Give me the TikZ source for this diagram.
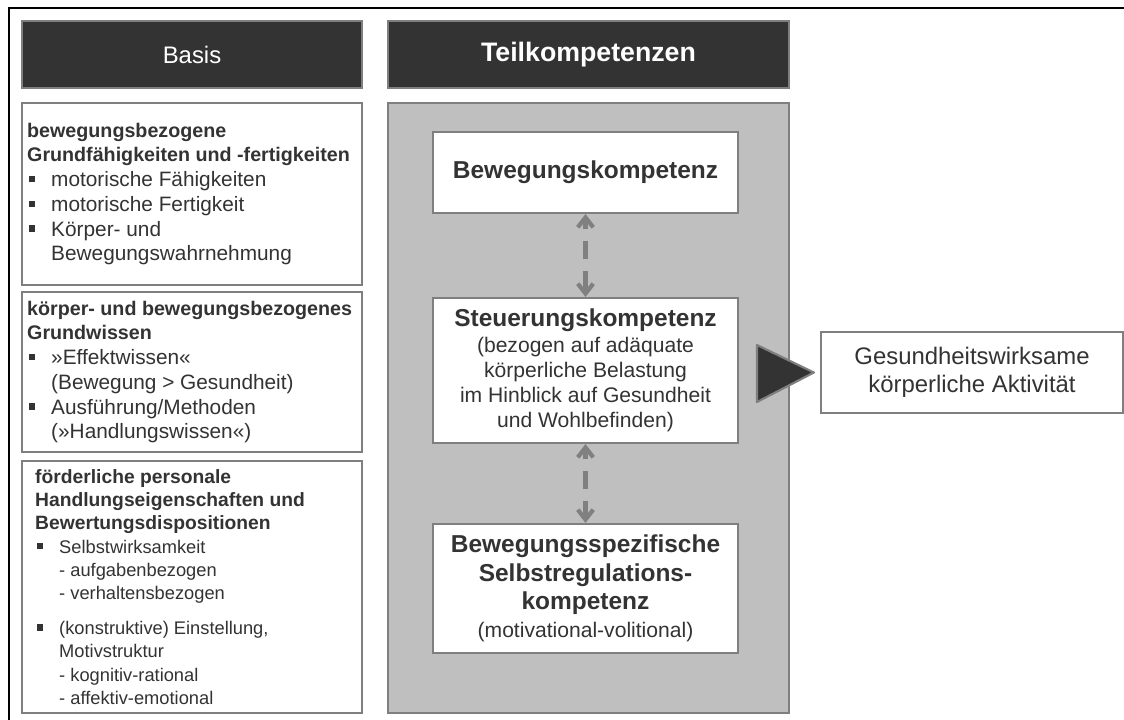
\documentclass[tikz,border=0pt]{standalone}
\usepackage{fontspec}
\setmainfont{Liberation Sans}
\usetikzlibrary{arrows.meta, positioning}
\definecolor{hdrdark}{HTML}{333333}
\definecolor{boxgray}{HTML}{7F7F7F}
\definecolor{panelgray}{HTML}{BFBFBF}
\definecolor{txtdark}{HTML}{333333}
\definecolor{linkgray}{HTML}{808080}

% square bullet, hanging indent and bold heading for the Basis lists
\newcommand{\bul}{\hspace*{1.4pt}\makebox[15.7pt][l]{\raisebox{0.22em}{\rule{4.3pt}{4.3pt}}}}
\newcommand{\ind}{\hspace*{17.1pt}}
\newcommand{\hd}[2][14]{{\fontsize{#1}{17.6}\selectfont\bfseries #2}}

\begin{document}
\begin{tikzpicture}[x=0.025cm, y=-0.025cm,
    header/.style={rectangle, draw=boxgray, line width=1.5pt, fill=hdrdark, text=white, minimum width=8.5cm, minimum height=1.675cm},
    basisbox/.style={rectangle, draw=boxgray, line width=1.5pt, fill=white, minimum width=8.5cm},
    basistext/.style={anchor=west, inner sep=0pt, align=left, text=txtdark, font=\fontsize{14.8}{17.6}\selectfont},
    kbox/.style={rectangle, draw=boxgray, line width=1.5pt, fill=white, text=txtdark, minimum width=7.625cm, align=center, font=\fontsize{15}{17.8}\selectfont},
    link/.style={{Straight Barb[length=7pt,width=11pt]}-{Straight Barb[length=7pt,width=11pt]}, linkgray, line width=3pt, dash pattern=on 7pt off 8.5pt on 12.8pt off 8.5pt on 20pt},
  ]
  \useasboundingbox (0,0) rectangle (1124,720);
  \draw[line width=2pt] (9,720) -- (9,8) -- (1124,8);

  % headers
  \node[header, font=\fontsize{17}{20}\selectfont] (hbasis) at (192,54.5) {Basis};
  \node[header, minimum width=10.025cm, font=\fontsize{19}{22}\selectfont\bfseries] (hteil) at (588.5,54.5) {Teilkompetenzen};

  % Basis column
  \node[basisbox, minimum height=4.55cm] (b1) at (192,194) {};
  \node[basistext, right=0.15cm of b1.west] (b1txt) {\hd{bewegungsbezogene}\\
    \hd{Grundfähigkeiten und -fertigkeiten}\\
    \bul motorische Fähigkeiten\\
    \bul motorische Fertigkeit\\
    \bul Körper- und\\
    \ind Bewegungswahrnehmung};

  \node[basisbox, minimum height=4.0cm] (b2) at (192,372) {};
  \node[basistext, right=0.15cm of b2.west] (b2txt) {\hd{körper- und bewegungsbezogenes}\\
    \hd{Grundwissen}\\
    \bul »Effektwissen«\\
    \ind (Bewegung > Gesundheit)\\
    \bul Ausführung/Methoden\\
    \ind (»Handlungswissen«)};

  \node[basisbox, minimum height=6.3cm] (b3) at (192,587) {};
  \node[basistext, right=0.35cm of b3.west, font=\fontsize{13}{16.6}\selectfont] (b3txt) {\hd[13.7]{förderliche personale}\\
    \hd[13.7]{Handlungseigenschaften und}\\
    \hd[13.7]{Bewertungsdispositionen}\\
    \bul Selbstwirksamkeit\\
    \ind - aufgabenbezogen\\
    \ind - verhaltensbezogen\\[8pt]
    \bul (konstruktive) Einstellung,\\
    \ind Motivstruktur\\
    \ind - kognitiv-rational\\
    \ind - affektiv-emotional};

  % Teilkompetenzen column
  \node[rectangle, draw=boxgray, line width=1.5pt, fill=panelgray, minimum width=10.025cm, minimum height=15.25cm] (panel) at (588.5,408) {};

  \node[kbox, minimum height=2.025cm, font=\fontsize{17.4}{20}\selectfont\bfseries] (k1) at (585.5,172.5) {Bewegungskompetenz};
  \node[kbox, minimum height=3.625cm] (k2) at (585.5,370.5) {{\fontsize{17.4}{20}\selectfont\bfseries Steuerungskompetenz}\\[1pt]
    (bezogen auf adäquate\\körperliche Belastung\\im Hinblick auf Gesundheit\\und Wohlbefinden)};
  \node[kbox, minimum height=3.225cm, font=\fontsize{17.4}{20}\selectfont\bfseries] (k3) at (585.5,588.5) {Bewegungsspezifische\\Selbstregulations-\\kompetenz\\
    {\mdseries\fontsize{15}{20}\selectfont (motivational-volitional)}};

  \draw[link] (k1) -- (k2);
  \draw[link] (k2) -- (k3);

  % outcome
  \node[kbox, minimum width=7.55cm, minimum height=2.025cm, font=\fontsize{17}{20}\selectfont] (rb) at (972,372.5) {Gesundheitswirksame\\körperliche Aktivität};
  \draw[fill=hdrdark, draw=boxgray, line width=1.5pt, line join=round] (757,345) -- ([xshift=-0.15cm]rb.west) -- (757,402) -- cycle;
\end{tikzpicture}
\end{document}
